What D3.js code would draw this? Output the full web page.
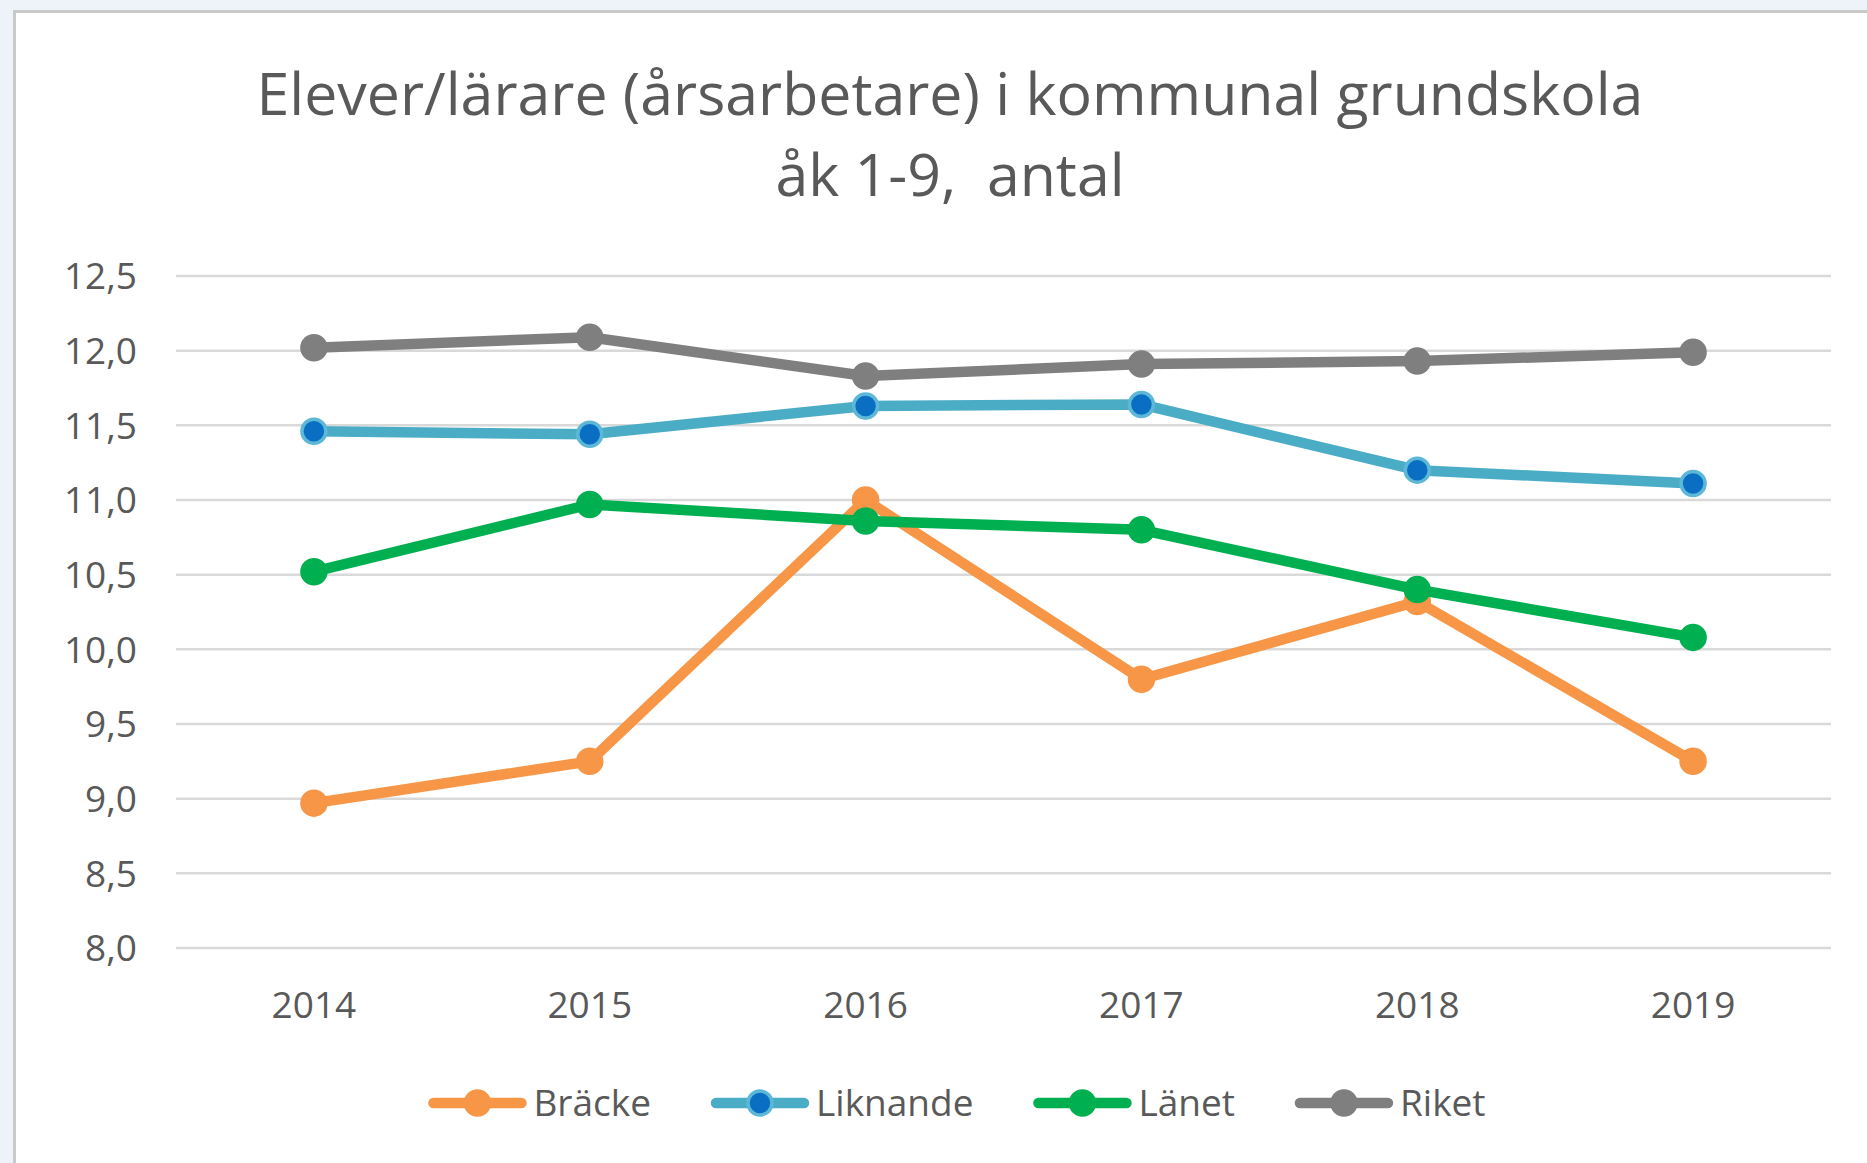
<!DOCTYPE html>
<meta charset="utf-8">
<script src="https://d3js.org/d3.v7.min.js"></script>
<style>
  body { margin: 0; background: #eef3f9; }
  text { font-family: "Open Sans", sans-serif; fill: #595959; }
</style>
<body>
<div id="chart"></div>
<script>
// data
var years = ["2014", "2015", "2016", "2017", "2018", "2019"];
var seriesNames = ["Bräcke", "Liknande", "Länet", "Riket"];
var bracke   = [8.97, 9.25, 11.0, 9.80, 10.32, 9.25];
var liknande = [11.46, 11.44, 11.63, 11.64, 11.20, 11.11];
var lanet    = [10.52, 10.97, 10.86, 10.80, 10.40, 10.08];
var riket    = [12.02, 12.09, 11.83, 11.91, 11.93, 11.99];
var yTicks = [8.0, 8.5, 9.0, 9.5, 10.0, 10.5, 11.0, 11.5, 12.0, 12.5];

var W = 1867, H = 1163;
var svg = d3.select("#chart").append("svg")
  .attr("width", W).attr("height", H)
  .style("display", "block");

// white chart panel with grey border (runs off right / bottom)
svg.append("rect")
  .attr("x", 14.5).attr("y", 11.5)
  .attr("width", W + 20).attr("height", H + 20)
  .attr("fill", "#fff").attr("stroke", "#c9c9c9").attr("stroke-width", 3);

// title
var title = svg.append("text")
  .attr("text-anchor", "middle")
  .style("font-size", "59px")
  .style("white-space", "pre");
title.append("tspan").attr("x", 950).attr("y", 115).text("Elever/lärare (årsarbetare) i kommunal grundskola");
title.append("tspan").attr("x", 950).attr("y", 196).text("åk 1-9,  antal");

// scales
var x = d3.scaleBand().domain(years).range([176, 1831]).padding(0);
var y = d3.scaleLinear().domain([8, 12.5]).range([948, 276]);
var cx = function(d, i) { return x(years[i]) + x.bandwidth() / 2; };

// gridlines
svg.append("g").selectAll("line")
  .data(yTicks).enter().append("line")
  .attr("x1", 176).attr("x2", 1831)
  .attr("y1", d => y(d)).attr("y2", d => y(d))
  .attr("stroke", "#d9d9d9").attr("stroke-width", 2.5);

// y axis labels
var fmt = d => d.toFixed(1).replace(".", ",");
svg.append("g").selectAll("text")
  .data(yTicks).enter().append("text")
  .attr("x", 137).attr("y", d => y(d))
  .attr("dy", "0.36em")
  .attr("text-anchor", "end")
  .style("font-size", "37px")
  .text(fmt);

// x axis labels
svg.append("g").selectAll("text")
  .data(years).enter().append("text")
  .attr("x", d => x(d) + x.bandwidth() / 2)
  .attr("y", 1018)
  .attr("text-anchor", "middle")
  .style("font-size", "37px")
  .text(d => d);

var series = [
  {name: "Bräcke",   values: bracke,   line: "#f79646", fill: "#f79646", ring: "#f79646"},
  {name: "Liknande", values: liknande, line: "#4bacc6", fill: "#0a6fc2", ring: "#5db8d8"},
  {name: "Länet",    values: lanet,    line: "#00b050", fill: "#00b050", ring: "#00b050"},
  {name: "Riket",    values: riket,    line: "#7f7f7f", fill: "#7f7f7f", ring: "#7f7f7f"}
];

var line = d3.line()
  .x((d, i) => cx(d, i))
  .y(d => y(d));

series.forEach(function(s) {
  var g = svg.append("g");
  g.append("path")
    .attr("d", line(s.values))
    .attr("fill", "none")
    .attr("stroke", s.line)
    .attr("stroke-width", 10.5)
    .attr("stroke-linejoin", "round");
  g.selectAll("circle")
    .data(s.values).enter().append("circle")
    .attr("cx", (d, i) => cx(d, i))
    .attr("cy", d => y(d))
    .attr("r", 12)
    .attr("fill", s.fill)
    .attr("stroke", s.ring)
    .attr("stroke-width", 3.5);
});

// legend
var gap = 60;
var leg = svg.append("g");
var lx = 0;
series.forEach(function(s, i) {
  var it = leg.append("g").attr("transform", "translate(" + lx + ",0)");
  it.append("line").attr("x1", 5).attr("x2", 93).attr("y1", 0).attr("y2", 0)
    .attr("stroke", s.line).attr("stroke-width", 10.5).attr("stroke-linecap", "round");
  it.append("circle").attr("cx", 49).attr("cy", 0).attr("r", 12)
    .attr("fill", s.fill).attr("stroke", s.ring).attr("stroke-width", 3.5);
  var t = it.append("text").attr("x", 105).attr("y", 0).attr("dy", "0.36em")
    .style("font-size", "37px").text(seriesNames[i]);
  lx += 105 + t.node().getComputedTextLength() + gap;
});
var legW = lx - gap;
leg.attr("transform", "translate(" + (957 - legW / 2) + ",1103)");
</script>
</body>
